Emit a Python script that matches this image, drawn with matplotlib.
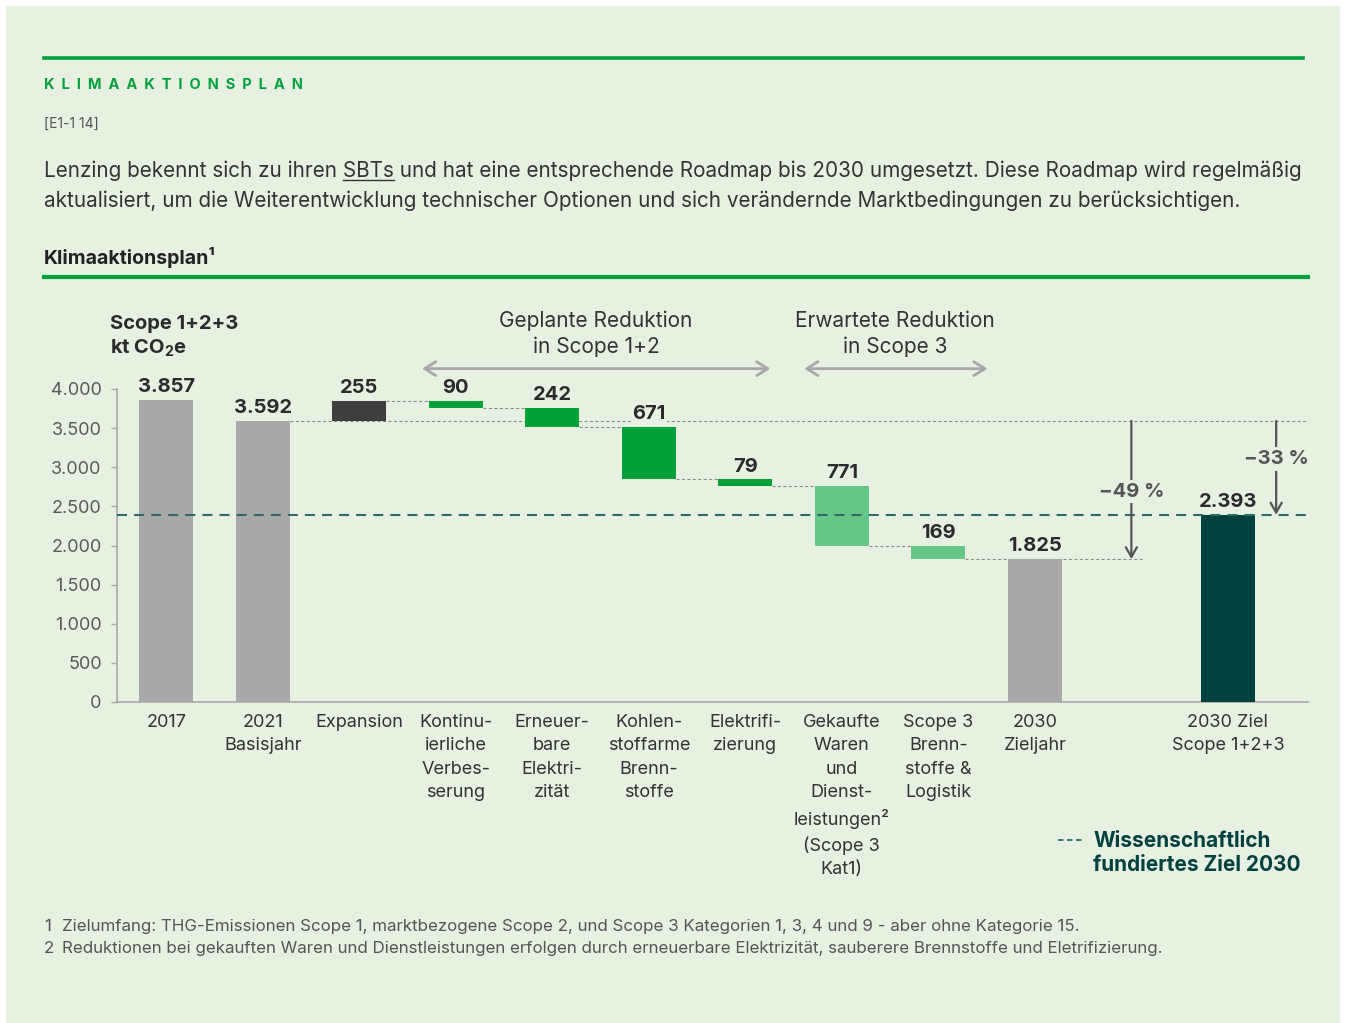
import matplotlib
matplotlib.use("Agg")
import matplotlib.pyplot as plt
from matplotlib.lines import Line2D
from matplotlib.patches import Rectangle

plt.rcParams["font.family"] = ["Inter", "DejaVu Sans"]
plt.rcParams["mathtext.fontset"] = "custom"
plt.rcParams["mathtext.bf"] = "Inter:bold"
plt.rcParams["mathtext.rm"] = "Inter"

# data
categories = ["2017", "2021\nBasisjahr", "Expansion",
              "Kontinu-\nierliche\nVerbes-\nserung",
              "Erneuer-\nbare\nElektri-\nzität",
              "Kohlen-\nstoffarme\nBrenn-\nstoffe",
              "Elektrifi-\nzierung",
              "Gekaufte\nWaren\nund\nDienst-\nleistungen²\n(Scope 3\nKat1)",
              "Scope 3\nBrenn-\nstoffe &\nLogistik",
              "2030\nZieljahr",
              "2030 Ziel\nScope 1+2+3"]
xpos = [0, 1, 2, 3, 4, 5, 6, 7, 8, 9, 11]
values = [3857, 3592, 255, -90, -242, -671, -79, -771, -169, 1825, 2393]
kinds = ["total", "total", "inc", "dec", "dec", "dec", "dec", "dec3", "dec3", "total", "target"]
target = 2393
base_2021 = 3592
yticks = [0, 500, 1000, 1500, 2000, 2500, 3000, 3500, 4000]

BG = "#E6F1E2"
GREEN = "#00A03B"
TEAL = "#00403F"
colors = {"total": "#A9A9A9", "inc": "#3E3E3E", "dec": GREEN,
          "dec3": "#66C687", "target": TEAL}

W, H = 1346, 1023


def fx(x):
    return x / W


def fy(y):
    return 1 - y / H


fig = plt.figure(figsize=(W / 100, H / 100), dpi=100, facecolor="white")
fig.patches.append(Rectangle((fx(6), 0), fx(W - 12), (H - 6) / H, transform=fig.transFigure,
                             facecolor=BG, edgecolor="none", zorder=-10))

# header
fig.add_artist(Line2D([fx(44), fx(1303)], [fy(58), fy(58)], color=GREEN, lw=2.6))
fig.text(fx(44), fy(85), "  ".join("KLIMAAKTIONSPLAN"), color=GREEN, fontsize=10.5,
         fontweight="bold", va="center")
fig.text(fx(44), fy(124), "[E1-1 14]", color="#555555", fontsize=10, va="center")

PS = 14.9
line1 = "Lenzing bekennt sich zu ihren SBTs und hat eine entsprechende Roadmap bis 2030 umgesetzt. Diese Roadmap wird regelmäßig"
line2 = "aktualisiert, um die Weiterentwicklung technischer Optionen und sich verändernde Marktbedingungen zu berücksichtigen."
fig.text(fx(44), fy(177), line1, color="#333333", fontsize=PS, va="baseline")
fig.text(fx(44), fy(207), line2, color="#333333", fontsize=PS, va="baseline")
r = fig.canvas.get_renderer()
tmp = fig.text(0, 0, "Lenzing bekennt sich zu ihren SBTs", fontsize=PS)
w_full = tmp.get_window_extent(r).width
tmp.set_text("SBTs")
w_sbt = tmp.get_window_extent(r).width
tmp.remove()
fig.add_artist(Line2D([fx(44 + w_full - w_sbt), fx(44 + w_full)], [fy(180), fy(180)],
                      color="#333333", lw=1))

fig.text(fx(44), fy(258), "Klimaaktionsplan¹", color="#222222", fontsize=14,
         fontweight="bold", va="center")
fig.add_artist(Line2D([fx(44), fx(1308)], [fy(277), fy(277)], color=GREEN, lw=3))

# chart
ax = fig.add_axes([fx(117), fy(702), (1308 - 117) / W, 313 / H])
ax.set_facecolor("none")
ax.set_xlim(-0.51, 11.83)
ax.set_ylim(0, 4000)

bottoms, tops = [], []
level = 0
for v, k in zip(values, kinds):
    if k in ("total", "target"):
        bottoms.append(0)
        tops.append(v)
        level = v
    else:
        new = level + v
        bottoms.append(min(level, new))
        tops.append(max(level, new))
        level = new

bw = 0.56
ax.bar(xpos, [t - b for t, b in zip(tops, bottoms)], bottom=bottoms, width=bw,
       color=[colors[k] for k in kinds], zorder=3)

for x, v, k, t in zip(xpos, values, kinds, tops):
    lbl = f"{v:,}".replace(",", ".") if k in ("total", "target") else str(abs(v))
    bbox = dict(facecolor=BG, edgecolor="none", pad=1) if v == -671 else None
    ax.text(x, t + 100, lbl, ha="center", va="baseline", fontsize=14.5,
            fontweight="bold", color="#2B2B2B", zorder=5, bbox=bbox)

for x, c in zip(xpos, categories):
    ax.text(x, -150, c, ha="center", va="top", fontsize=13, color="#333333",
            linespacing=1.5)

# connectors
dash_kw = dict(color="#8A8A8A", lw=0.8, dashes=(2.7, 2.2), zorder=2)
for i in range(2, 8):
    end = bottoms[i] if values[i] < 0 else tops[i]
    ax.plot([xpos[i] + bw / 2, xpos[i + 1] - bw / 2], [end, end], **dash_kw)
ax.plot([xpos[1] + bw / 2, 11.83], [base_2021, base_2021], **dash_kw)
ax.plot([xpos[8] + bw / 2, 10.11], [values[9], values[9]], **dash_kw)

# target line
ax.axhline(target, color="#2E6A6A", lw=1.5, dashes=(4.8, 3.4), zorder=4)

# reduction arrows
arrow_kw = dict(arrowstyle="->,head_length=0.7,head_width=0.4", color="#555555", lw=1.6,
                shrinkA=0, shrinkB=0)
ax.annotate("", xy=(10, values[9]), xytext=(10, base_2021), arrowprops=arrow_kw, zorder=4)
ax.annotate("", xy=(11.5, target), xytext=(11.5, base_2021), arrowprops=arrow_kw, zorder=4)
ax.text(10, 2688, "−49 %", ha="center", va="center", fontsize=14.5, fontweight="bold",
        color="#555555", zorder=5, bbox=dict(facecolor=BG, edgecolor="none", pad=2))
ax.text(11.5, 3108, "−33 %", ha="center", va="center", fontsize=14.5, fontweight="bold",
        color="#555555", zorder=5, bbox=dict(facecolor=BG, edgecolor="none", pad=2))

# brackets
br_kw = dict(arrowstyle="<->,head_length=0.8,head_width=0.5", color="#A8A8A8", lw=2,
             shrinkA=0, shrinkB=0)
ax.annotate("", xy=(6.26, 4260), xytext=(2.65, 4260), arrowprops=br_kw, annotation_clip=False)
ax.annotate("", xy=(8.51, 4260), xytext=(6.61, 4260), arrowprops=br_kw, annotation_clip=False)
fig.text(fx(596), fy(334), "Geplante Reduktion\nin Scope 1+2", ha="center", va="center",
         fontsize=15, color="#333333", linespacing=1.35)
fig.text(fx(895), fy(334), "Erwartete Reduktion\nin Scope 3", ha="center", va="center",
         fontsize=15, color="#333333", linespacing=1.35)

fig.text(fx(110), fy(324), "Scope 1+2+3", ha="left", va="center", fontsize=14.5,
         fontweight="bold", color="#2B2B2B")
fig.text(fx(110), fy(348), r"kt CO$_{\mathbf{2}}$e", ha="left", va="center", fontsize=14.5,
         fontweight="bold", color="#2B2B2B")

# axes styling
for s in ("top", "right"):
    ax.spines[s].set_visible(False)
for s in ("left", "bottom"):
    ax.spines[s].set_color("#AAAAAA")
    ax.spines[s].set_linewidth(1.2)
ax.set_xticks([])
ax.set_yticks(yticks)
ax.set_yticklabels([f"{t:,}".replace(",", ".") for t in yticks], fontsize=13, color="#5A5A5A")
ax.tick_params(axis="y", length=4, width=1, color="#AAAAAA", pad=7)

# legend
fig.add_artist(Line2D([fx(1058), fx(1083)], [fy(840), fy(840)], color="#2E6A6A", lw=1.3,
                      dashes=(3, 2)))
fig.text(fx(1093), fy(853), "Wissenschaftlich\nfundiertes Ziel 2030", ha="left", va="center",
         fontsize=15, fontweight="bold", color=TEAL, linespacing=1.26)

# footnotes
FS = 12.2
notes = ["Zielumfang: THG-Emissionen Scope 1, marktbezogene Scope 2, und Scope 3 Kategorien 1, 3, 4 und 9 - aber ohne Kategorie 15.",
         "Reduktionen bei gekauften Waren und Dienstleistungen erfolgen durch erneuerbare Elektrizität, sauberere Brennstoffe und Eletrifizierung."]
for i, note in enumerate(notes):
    y = 931 + 22 * i
    fig.text(fx(44), fy(y), str(i + 1), fontsize=FS, color="#555555", va="baseline")
    fig.text(fx(62), fy(y), note, fontsize=FS, color="#555555", va="baseline")

fig.savefig("out.png", dpi=100, facecolor=fig.get_facecolor())
